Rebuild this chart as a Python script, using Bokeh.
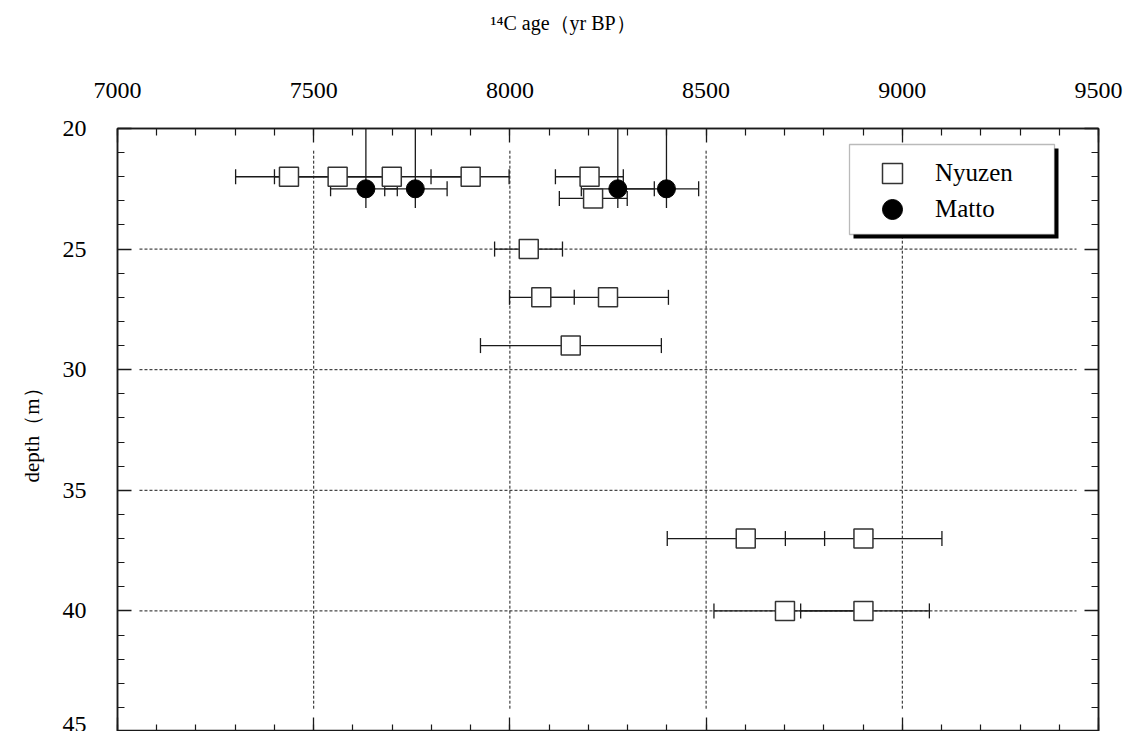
from bokeh.plotting import figure
from bokeh.models import (Range1d, LinearAxis, SingleIntervalTicker, FixedTicker, Whisker, TeeHead,
                          ColumnDataSource, Legend, LegendItem, BoxAnnotation)
from bokeh.embed import file_html
from bokeh.resources import INLINE

# ---- data ----
nyuzen_age   = [7437, 7561, 7699, 7900, 8203, 8212, 8048, 8080, 8250, 8155, 8601, 8901, 8701, 8901]
nyuzen_depth = [22.0, 22.0, 22.0, 22.0, 22.0, 22.9, 25.0, 27.0, 27.0, 29.0, 37.0, 37.0, 40.0, 40.0]
nyuzen_low   = [7301, 7400, 7562, 7799, 8116, 8126, 7961, 7999, 8096, 7925, 8401, 8702, 8520, 8741]
nyuzen_high  = [7562, 7722, 7911, 7998, 8289, 8299, 8134, 8164, 8404, 8386, 8802, 9101, 8904, 9069]

matto_age        = [7633, 7759, 8275, 8399]
matto_depth      = [22.5, 22.5, 22.5, 22.5]
matto_low        = [7543, 7681, 8182, 8285]
matto_high       = [7713, 7840, 8368, 8481]
matto_depth_top  = [20.0, 20.0, 20.0, 20.0]
matto_depth_bot  = [23.3, 23.3, 23.3, 23.3]

x_start, x_end = 7000, 9500
y_top, y_bottom = 20, 45
grid_x = [7500, 8000, 8500, 9000]
grid_y = [25, 30, 35, 40]

FONT = "Liberation Serif"
INK = "#1a1a1a"
FW, FH = 981, 603

p = figure(frame_width=FW, frame_height=FH,
           x_range=Range1d(x_start, x_end), y_range=Range1d(y_bottom, y_top),
           x_axis_location="above", output_backend="svg", toolbar_location=None,
           min_border_top=128, min_border_left=117, min_border_right=25, min_border_bottom=0,
           background_fill_color="white", border_fill_color="white")
p.xgrid.visible = False
p.ygrid.visible = False
p.outline_line_color = INK
p.outline_line_width = 1.5


def style_axis(ax, interval, labels=True):
    ax.ticker = SingleIntervalTicker(interval=interval, num_minor_ticks=5)
    ax.major_tick_in = 14
    ax.major_tick_out = 0
    ax.minor_tick_in = 7
    ax.minor_tick_out = 0
    ax.axis_line_color = INK
    ax.axis_line_width = 1.5
    ax.major_tick_line_color = INK
    ax.major_tick_line_width = 1.3
    ax.minor_tick_line_color = INK
    ax.minor_tick_line_width = 1.2
    if labels:
        ax.major_label_text_font = FONT
        ax.major_label_text_font_size = "24px"
        ax.major_label_text_color = "black"
        ax.major_label_standoff = 31
    else:
        ax.major_label_text_font_size = "0px"
        ax.major_label_text_alpha = 0
        ax.major_label_standoff = 0


top_ax = p.xaxis[0]
style_axis(top_ax, 500)

# blank spacer band between the top tick labels and the title:
# one white outward tick at the frame corner gives the band its height
spacer = LinearAxis(ticker=FixedTicker(ticks=[x_start]), major_label_overrides={x_start: ""})
spacer.axis_line_color = "white"
spacer.major_tick_in = 0
spacer.major_tick_out = 41
spacer.major_tick_line_color = "white"
spacer.minor_tick_in = 0
spacer.minor_tick_out = 0
spacer.major_label_text_font_size = "0px"
spacer.major_label_text_alpha = 0
spacer.major_label_standoff = 0
p.add_layout(spacer, "above")

p.title.text = "¹⁴C age（yr BP）"
p.title.align = "left"
p.title.offset = 373
p.title.text_font = FONT
p.title.text_font_style = "normal"
p.title.text_font_size = "20px"
p.title.text_color = "black"
p.title.standoff = 10

left_ax = p.yaxis[0]
style_axis(left_ax, 5)
left_ax.axis_label = "depth（m）"
left_ax.axis_label_text_font = FONT
left_ax.axis_label_text_font_style = "normal"
left_ax.axis_label_text_font_size = "21px"
left_ax.axis_label_text_color = "black"
left_ax.axis_label_standoff = 16

bottom_ax = LinearAxis()
style_axis(bottom_ax, 500, labels=False)
p.add_layout(bottom_ax, "below")
right_ax = LinearAxis()
style_axis(right_ax, 5, labels=False)
p.add_layout(right_ax, "right")

# dashed grid, inset from the frame edges
inset_x = 56
inset_y = 0.92
p.segment(x0=grid_x, y0=[y_top + inset_y] * len(grid_x), x1=grid_x, y1=[y_bottom - inset_y] * len(grid_x),
          line_color=INK, line_width=1, line_dash="3 2", level="image")
p.segment(x0=[x_start + inset_x] * len(grid_y), y0=grid_y, x1=[x_end - inset_x] * len(grid_y), y1=grid_y,
          line_color=INK, line_width=1, line_dash="3 2", level="image")

src_n = ColumnDataSource(dict(age=nyuzen_age, depth=nyuzen_depth, low=nyuzen_low, high=nyuzen_high))
src_m = ColumnDataSource(dict(age=matto_age, depth=matto_depth, low=matto_low, high=matto_high,
                              dtop=matto_depth_top, dbot=matto_depth_bot))


def whisker(src):
    return Whisker(source=src, base="depth", lower="low", upper="high", dimension="width",
                   line_color=INK, line_width=1.3, level="underlay",
                   upper_head=TeeHead(size=15, line_color=INK, line_width=1.3),
                   lower_head=TeeHead(size=15, line_color=INK, line_width=1.3))


p.add_layout(whisker(src_n))
p.add_layout(whisker(src_m))
p.segment(x0="age", y0="dtop", x1="age", y1="dbot", source=src_m, line_color=INK, line_width=1.3)

sq = p.scatter("age", "depth", source=src_n, marker="square", size=19,
               fill_color="white", line_color="#333333", line_width=1.5)
ci = p.scatter("age", "depth", source=src_m, marker="circle", size=18,
               fill_color="black", line_color="black")


# legend box with drop shadow (screen px, relative to the frame's lower-left corner)
def sbox(l, r, b, t, **kw):
    return BoxAnnotation(left=l, right=r, bottom=b, top=t,
                         left_units="screen", right_units="screen",
                         bottom_units="screen", top_units="screen", **kw)


p.add_layout(sbox(736, 941, FH - 110, FH - 20, fill_color="black", fill_alpha=1, line_alpha=0))
p.add_layout(sbox(732, 937, FH - 106, FH - 16, fill_color="white", fill_alpha=1,
                  line_color=INK, line_width=1.3))


def one_legend(label, rend, loc):
    return Legend(items=[LegendItem(label=label, renderers=[rend])],
                  location=loc, margin=0, padding=0, spacing=0,
                  glyph_width=50, glyph_height=50, label_standoff=18,
                  label_text_font=FONT, label_text_font_size="25px", label_text_color="black",
                  background_fill_alpha=0, border_line_alpha=0)


p.add_layout(one_legend("Nyuzen", sq, (750, FH - 70)))
p.add_layout(one_legend("Matto", ci, (750, FH - 106)))

open("out.html", "w").write(file_html(p, INLINE))
